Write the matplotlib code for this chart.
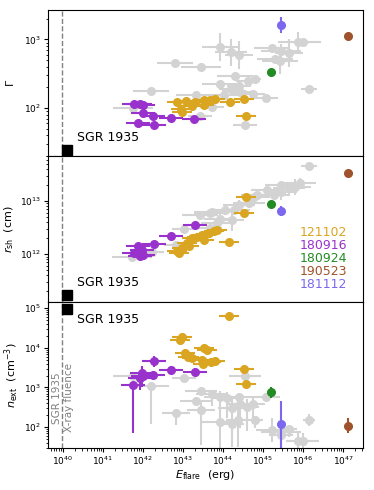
import matplotlib
matplotlib.use("Agg")
import matplotlib.pyplot as plt
import numpy as np

# log10 values
# grey comparison sample: (logE, logY, xerr dex, yerr dex)
grey_top_E = [42.81, 43.46, 43.92, 44.21, 44.41, 45.22, 45.46, 45.66, 45.29, 45.42,
              45.88, 45.99, 42.21, 43.33, 43.93, 44.31, 44.62, 44.81, 44.20, 44.39,
              44.27, 44.43, 44.75, 45.08, 46.14, 41.75, 43.72, 43.43, 44.56, 44.03]
grey_top_gamma = [2.66, 2.60, 2.89, 2.81, 2.77, 2.87, 2.83, 2.80, 2.72, 2.69,
                  2.96, 2.96, 2.25, 2.19, 2.35, 2.46, 2.39, 2.42, 2.28, 2.32,
                  2.25, 2.23, 2.21, 2.15, 2.28, 2.00, 2.01, 1.88, 1.75, 2.19]
grey_top_xerr = [0.45, 0.5, 0.45, 0.4, 0.35, 0.45, 0.5, 0.35, 0.45, 0.45,
                 0.5, 0.45, 0.45, 0.5, 0.45, 0.45, 0.3, 0.15, 0.3, 0.3,
                 0.3, 0.3, 0.3, 0.3, 0.2, 0.5, 0.3, 0.3, 0.3, 0.35]
grey_top_yerr = [0.03, 0.05, 0.2, 0.2, 0.2, 0.05, 0.1, 0.2, 0.05, 0.2,
                 0.15, 0.05, 0.03, 0.05, 0.03, 0.05, 0.03, 0.03, 0.03, 0.05,
                 0.05, 0.05, 0.03, 0.03, 0.03, 0.05, 0.03, 0.03, 0.03, 0.05]

grey_mid_E = [46.14, 45.93, 45.81, 45.64, 45.44, 45.44, 45.10, 45.27, 44.85, 44.77,
              44.64, 44.39, 44.27, 44.06, 43.72, 43.43, 43.68, 43.93, 44.22, 43.85,
              43.68, 43.04, 42.83, 42.22, 41.74]
grey_mid_r = [13.66, 13.33, 13.27, 13.24, 13.30, 13.17, 13.21, 13.11, 13.11, 13.08,
              12.96, 12.92, 12.83, 12.83, 12.80, 12.74, 12.77, 12.67, 12.64, 12.58,
              12.49, 12.47, 12.17, 12.03, 11.94]
grey_mid_xerr = [0.2, 0.4, 0.4, 0.4, 0.4, 0.4, 0.4, 0.4, 0.4, 0.4,
                 0.4, 0.4, 0.4, 0.4, 0.45, 0.45, 0.4, 0.4, 0.3, 0.4,
                 0.3, 0.3, 0.3, 0.3, 0.5]
grey_mid_yerr = [0.03, 0.1, 0.15, 0.1, 0.05, 0.15, 0.05, 0.1, 0.05, 0.05,
                 0.1, 0.1, 0.1, 0.05, 0.05, 0.05, 0.05, 0.1, 0.2, 0.1,
                 0.05, 0.03, 0.05, 0.05, 0.05]

grey_bot_E = [41.75, 42.21, 43.04, 42.82, 43.46, 43.32, 43.46, 43.72, 43.93, 44.10,
              44.22, 44.39, 44.43, 44.60, 44.75, 45.08, 44.81, 43.92, 44.22, 44.37,
              45.22, 45.44, 45.46, 45.66, 45.88, 45.99, 46.14, 44.54]
grey_bot_n = [3.30, 3.03, 3.25, 2.36, 2.92, 2.67, 2.44, 2.83, 2.77, 2.73,
              2.48, 2.75, 2.58, 2.50, 2.58, 2.75, 2.17, 2.12, 2.09, 2.19,
              1.93, 1.88, 1.81, 1.95, 1.66, 1.64, 2.19, 3.30]
grey_bot_xerr = [0.5, 0.45, 0.3, 0.35, 0.4, 0.4, 0.35, 0.4, 0.4, 0.4,
                 0.35, 0.35, 0.35, 0.3, 0.3, 0.35, 0.2, 0.45, 0.3, 0.3,
                 0.4, 0.5, 0.3, 0.2, 0.3, 0.4, 0.15, 0.4]
grey_bot_ylo = [0.1, 0.95, 0.05, 0.3, 0.1, 0.15, 0.9, 0.3, 0.5, 0.5,
                0.8, 0.6, 0.6, 0.6, 0.5, 0.1, 0.2, 0.7, 0.6, 0.7,
                0.3, 0.3, 0.3, 0.2, 0.3, 0.3, 0.15, 0.1]
grey_bot_yhi = [0.1, 0.1, 0.05, 0.1, 0.1, 0.1, 0.2, 0.1, 0.15, 0.15,
                0.3, 0.1, 0.2, 0.2, 0.2, 0.1, 0.1, 0.4, 0.4, 0.4,
                0.3, 0.2, 0.1, 0.1, 0.2, 0.2, 0.15, 0.1]

# FRB 121102
gold_top_E = [42.85, 42.95, 42.97, 43.08, 43.22, 43.31, 43.52, 43.53, 43.67, 43.81, 44.17, 44.53, 44.57]
gold_top_gamma = [2.088, 1.99, 1.94, 2.10, 2.025, 2.088, 2.12, 2.04, 2.11, 2.137, 2.08, 2.127, 1.883]
gold_mid_E = [42.85, 42.90, 42.97, 43.10, 43.15, 43.22, 43.35, 43.47, 43.52, 43.64, 43.77, 43.85, 44.16, 44.53, 44.57]
gold_mid_r = [12.05, 12.02, 12.11, 12.20, 12.15, 12.30, 12.33, 12.36, 12.27, 12.39, 12.44, 12.46, 12.23, 12.77, 13.07]
gold_bot_E = [44.16, 42.97, 42.93, 43.06, 43.14, 43.22, 43.52, 43.60, 43.47, 43.50, 43.70, 43.81, 44.53, 44.57]
gold_bot_n = [4.81, 4.27, 4.20, 3.87, 3.78, 3.74, 3.99, 3.95, 3.70, 3.59, 3.65, 3.67, 3.47, 3.09]

# FRB 180916
purple_top_E = [41.77, 41.93, 42.00, 42.00, 42.25, 41.89, 42.28, 42.70, 43.28]
purple_top_gamma = [2.064, 2.064, 2.04, 1.933, 1.883, 1.787, 1.747, 1.85, 1.835]
purple_mid_E = [43.31, 42.71, 42.27, 41.89, 41.97, 41.93, 41.77, 42.00]
purple_mid_r = [12.55, 12.34, 12.19, 12.16, 12.08, 11.96, 12.02, 11.99]
purple_bot_E = [42.29, 42.70, 43.30, 42.25, 41.97, 41.93, 42.00, 41.75]
purple_bot_n = [3.655, 3.43, 3.40, 3.32, 3.36, 3.24, 3.30, 3.05]
purple_bot_ylo = [0.15, 0.1, 0.1, 0.1, 0.35, 0.3, 0.1, 1.2]
purple_bot_yhi = [0.15, 0.1, 0.1, 0.1, 0.17, 0.1, 0.1, 0.1]

# single bursts: logE, logGamma, logr, logn
single_names = ["180924", "190523", "181112"]
single_colors = ["forestgreen", "sienna", "mediumslateblue"]
single_E = [45.19, 47.12, 45.44]
single_gamma = [2.517, 3.05, 3.21]
single_gamma_err = [0.0, 0.0, 0.12]
single_r = [12.94, 13.52, 12.81]
single_r_err = [0.0, 0.0, 0.1]
single_n = [2.874, 2.04, 2.08]
single_n_lo = [0.15, 0.2, 1.0]
single_n_hi = [0.15, 0.2, 0.57]

# SGR 1935+2154
sgr_E = 40.1
sgr_gamma = 1.38
sgr_r = 11.22
sgr_n = 4.97
sgr_fluence_E = 39.99

legend_names = ["121102", "180916", "180924", "190523", "181112"]
legend_colors = ["goldenrod", "darkorchid", "forestgreen", "sienna", "mediumslateblue"]


def asym(vals, lo, hi):
    vals = np.asarray(vals, dtype=float)
    lo = np.broadcast_to(np.asarray(lo, dtype=float), vals.shape)
    hi = np.broadcast_to(np.asarray(hi, dtype=float), vals.shape)
    return 10**vals, [10**vals - 10**(vals - lo), 10**(vals + hi) - 10**vals]


def draw(ax, E, Y, xerr, ylo, yhi, color, z=2):
    x, xe = asym(E, xerr, xerr)
    y, ye = asym(Y, ylo, yhi)
    ax.errorbar(x, y, xerr=xe, yerr=ye, fmt="o", ms=5.5, color=color,
                ecolor=color, elinewidth=1.5, capsize=0, zorder=z)


fig, axes = plt.subplots(3, 1, figsize=(3.74, 4.9), sharex=True)
fig.subplots_adjust(left=0.128, right=0.971, top=0.98, bottom=0.086, hspace=0)
grey = "lightgrey"

# Gamma
ax = axes[0]
draw(ax, grey_top_E, grey_top_gamma, grey_top_xerr, grey_top_yerr, grey_top_yerr, grey, z=1)
draw(ax, gold_top_E, gold_top_gamma, 0.25, 0.03, 0.03, "goldenrod")
draw(ax, purple_top_E, purple_top_gamma, 0.3, 0.03, 0.03, "darkorchid")
for i in range(3):
    draw(ax, [single_E[i]], [single_gamma[i]], 0.0, single_gamma_err[i], single_gamma_err[i], single_colors[i])
ax.set_ylim(20, 2700)
ax.set_ylabel(r"$\Gamma$", fontsize=8)

# shock radius
ax = axes[1]
draw(ax, grey_mid_E, grey_mid_r, grey_mid_xerr, grey_mid_yerr, grey_mid_yerr, grey, z=1)
draw(ax, gold_mid_E, gold_mid_r, 0.25, 0.03, 0.03, "goldenrod")
draw(ax, purple_mid_E, purple_mid_r, 0.3, 0.03, 0.03, "darkorchid")
for i in range(3):
    draw(ax, [single_E[i]], [single_r[i]], 0.0, single_r_err[i], single_r_err[i], single_colors[i])
ax.set_ylim(1.26e11, 7.1e13)
ax.set_ylabel(r"$r_{\rm sh}$  (cm)", fontsize=8)
for k, (name, col) in enumerate(zip(legend_names, legend_colors)):
    ax.text(0.8, 0.473 - k * 0.088, name, color=col, fontsize=9,
            transform=ax.transAxes, va="center", ha="left")

# external density
ax = axes[2]
draw(ax, grey_bot_E, grey_bot_n, grey_bot_xerr, grey_bot_ylo, grey_bot_yhi, grey, z=1)
draw(ax, gold_bot_E, gold_bot_n, 0.25, 0.1, 0.1, "goldenrod")
draw(ax, purple_bot_E, purple_bot_n, 0.3, purple_bot_ylo, purple_bot_yhi, "darkorchid")
for i in range(3):
    draw(ax, [single_E[i]], [single_n[i]], 0.0, single_n_lo[i], single_n_hi[i], single_colors[i])
ax.set_ylim(30, 1.44e5)
ax.set_ylabel(r"$n_{\rm ext}$  (cm$^{-3}$)", fontsize=8)
ax.set_xlabel(r"$E_{\rm flare}$  (erg)", fontsize=8)
ax.xaxis.set_label_coords(0.5, -0.14)
ax.text(10**(sgr_fluence_E + 0.02), 10**2.74, "SGR 1935\nX-ray fluence", rotation=90,
        ha="center", va="center", multialignment="center", color="grey", fontsize=7.5)

for ax, yv, ty in zip(axes, [sgr_gamma, sgr_r, sgr_n], [0.123, 0.13, 0.877]):
    ax.set_xscale("log")
    ax.set_yscale("log")
    ax.axvline(10**sgr_fluence_E, color="grey", ls="--", lw=1, zorder=0)
    ax.plot([10**sgr_E], [10**yv], "s", color="black", ms=7, zorder=5)
    ax.text(0.092, ty, "SGR 1935", transform=ax.transAxes, fontsize=9, va="center")
    ax.tick_params(labelsize=6.5, pad=2)
    ax.tick_params(which="major", length=3)
    ax.tick_params(which="minor", length=1.8)
    ax.yaxis.set_label_coords(-0.1, 0.5)

axes[2].yaxis.set_label_coords(-0.085, 0.5)
axes[2].set_xlim(10**39.63, 10**47.5)
axes[2].set_xticks([10.0**k for k in range(40, 48)])

fig.savefig("out.png", dpi=100)
